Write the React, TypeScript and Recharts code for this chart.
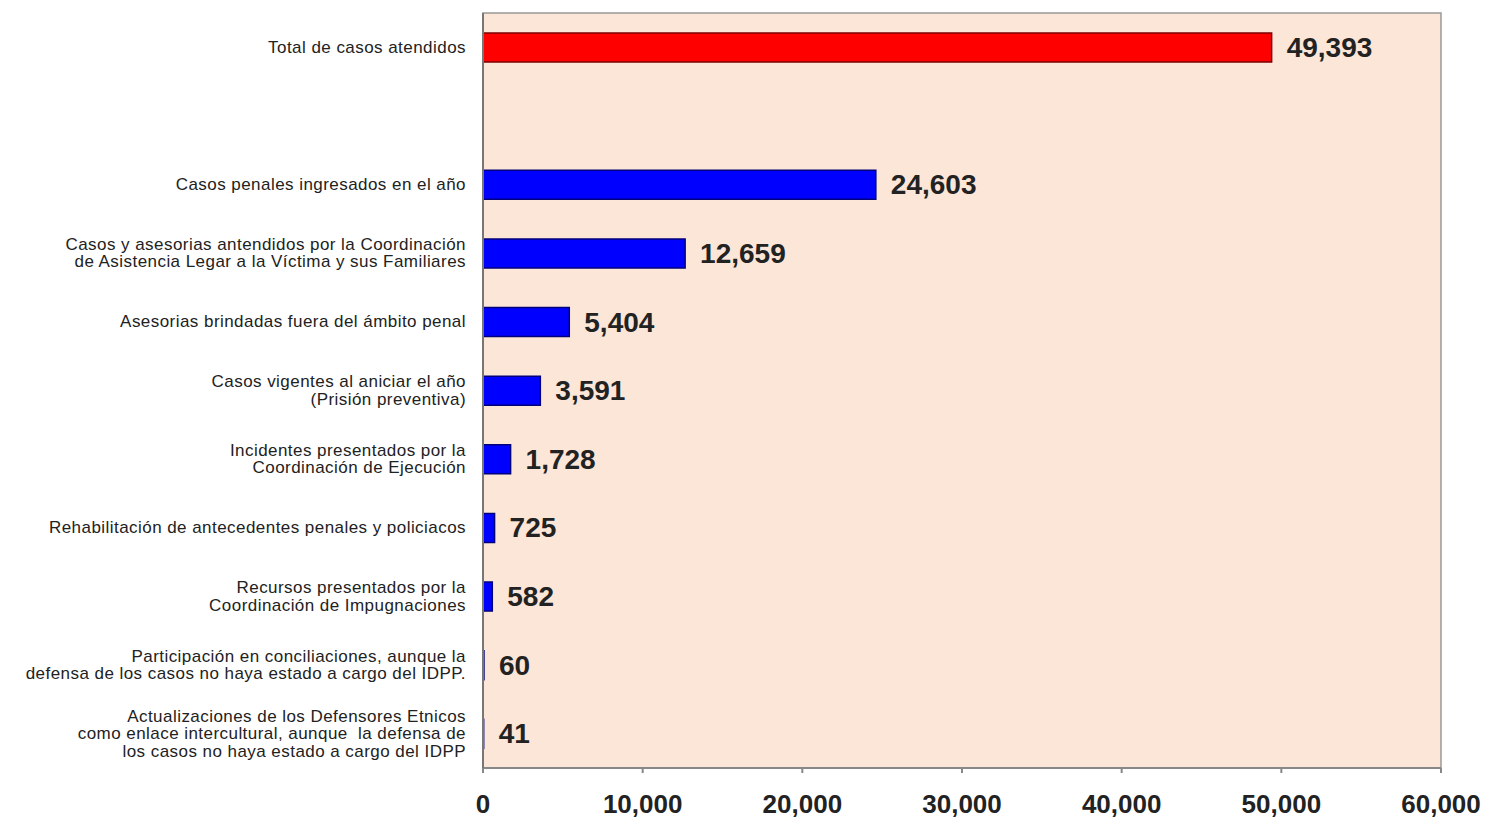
import React from 'react';
import { BarChart, Bar, XAxis, YAxis, CartesianGrid, Cell, LabelList, ReferenceArea } from 'recharts';

// Categorías (el renglón vacío deja el hueco bajo el total)
const categories: string[] = [
  'Total de casos atendidos',
  '',
  'Casos penales ingresados en el año',
  'Casos y asesorias antendidos por la Coordinación\nde Asistencia Legar a la Víctima y sus Familiares',
  'Asesorias brindadas fuera del ámbito penal',
  'Casos vigentes al aniciar el año\n(Prisión preventiva)',
  'Incidentes presentados por la\nCoordinación de Ejecución',
  'Rehabilitación de antecedentes penales y policiacos',
  'Recursos presentados por la\nCoordinación de Impugnaciones',
  'Participación en conciliaciones, aunque la\ndefensa de los casos no haya estado a cargo del IDPP.',
  'Actualizaciones de los Defensores Etnicos\ncomo enlace intercultural, aunque  la defensa de\nlos casos no haya estado a cargo del IDPP',
];
const values: (number | null)[] = [49393, null, 24603, 12659, 5404, 3591, 1728, 725, 582, 60, 41];
const xTicks: number[] = [0, 10000, 20000, 30000, 40000, 50000, 60000];

const fillColors = ['#FF0000', '#0000FF'];
const strokeColors = ['#7A0000', '#00007A'];

const data = categories.map((name, i) => ({ id: `c${i}`, name, value: values[i] }));

const fmt = (v: number) => v.toLocaleString('en-US');

const CategoryTick = ({ x, y, payload }: any) => {
  const name = categories[payload.index] ?? '';
  if (!name) return null;
  const lines = name.split('\n');
  const lh = 17.5;
  const start = -((lines.length - 1) * lh) / 2;
  const tx = x - 9;
  return (
    <text x={tx} y={y} textAnchor="end" fontSize={17} letterSpacing={0.45} fill="#222"
      fontFamily="Liberation Sans, Arial, sans-serif" style={{ whiteSpace: 'pre' }}>
      {lines.map((l: string, i: number) => (
        <tspan key={i} x={tx} y={y + start + i * lh} dominantBaseline="central">
          {l}
        </tspan>
      ))}
    </text>
  );
};

const ValueTick = ({ x, y, payload }: any) => (
  <text x={x} y={y} dy={38} textAnchor="middle" fontSize={26} fontWeight="bold" fill="#222"
    fontFamily="Liberation Sans, Arial, sans-serif">
    {fmt(payload.value)}
  </text>
);

const renderValueLabel = (props: any) => {
  const { x, y, width, height, value } = props;
  if (value == null) return null;
  return (
    <text x={x + width + 15} y={y + height / 2} dominantBaseline="central" fontSize={28} fontWeight="bold"
      fill="#222" fontFamily="Liberation Sans, Arial, sans-serif">
      {fmt(value)}
    </text>
  );
};

export default function App() {
  return (
    <div style={{ position: 'absolute', left: 0, top: 0, background: '#fff' }}>
      <BarChart
        width={1485}
        height={818}
        data={data}
        layout="vertical"
        margin={{ top: 13, right: 44, bottom: 0, left: 0 }}
        barCategoryGap={0}
      >
        <CartesianGrid fill="#FCE6D7" horizontal={false} vertical={false} />
        <ReferenceArea x1={0} x2={60000} fill="none" stroke="#999" strokeWidth={1.5} />
        <XAxis
          type="number"
          domain={[0, 60000]}
          ticks={xTicks}
          height={50}
          tick={<ValueTick />}
          tickSize={5}
          stroke="#888"
          strokeWidth={2}
          interval={0}
        />
        <YAxis
          type="category"
          dataKey="id"
          width={483}
          tick={<CategoryTick />}
          tickLine={false}
          interval={0}
          stroke="#777"
          strokeWidth={2}
        />
        <Bar dataKey="value" barSize={29} isAnimationActive={false} strokeWidth={1.5}>
          {data.map((d, i) => (
            <Cell key={d.id} fill={fillColors[i === 0 ? 0 : 1]} stroke={strokeColors[i === 0 ? 0 : 1]} />
          ))}
          <LabelList dataKey="value" content={renderValueLabel} />
        </Bar>
      </BarChart>
    </div>
  );
}
